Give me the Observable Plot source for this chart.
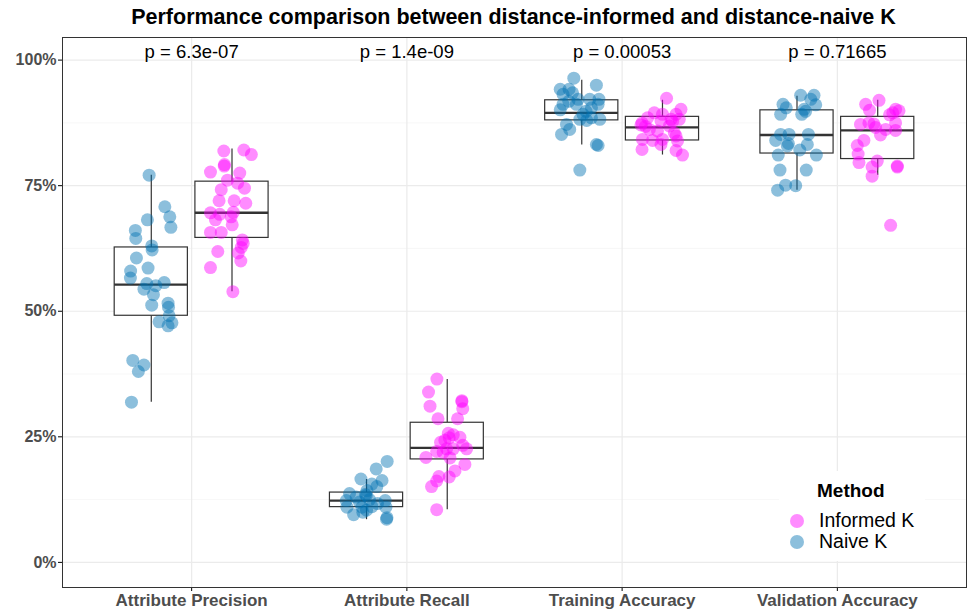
<!DOCTYPE html>
<html><head><meta charset="utf-8">
<script src="https://cdn.jsdelivr.net/npm/d3@7"></script>
<script src="https://cdn.jsdelivr.net/npm/@observablehq/plot@0.6"></script>
<style>
body{margin:0;background:#fff;font-family:"Liberation Sans",Arial,sans-serif;}
#wrap{position:relative;width:969px;height:613px;overflow:hidden;}
#title{box-sizing:border-box;width:969px;height:36px;line-height:34px;text-align:center;font-weight:bold;font-size:21.5px;color:#000;padding-left:58px;}
#legend{position:absolute;left:779px;top:471px;width:146px;height:90px;background:#fff;}
#legend .t{position:absolute;left:38px;top:10px;font-weight:bold;font-size:19px;line-height:1;color:#000;}
#legend .dot{position:absolute;width:14px;height:14px;border-radius:50%;}
#legend .lab{position:absolute;left:40px;font-size:19.5px;line-height:1;color:#000;}
svg g[aria-label^="x-axis"] text{font-weight:bold;font-size:17px;fill:#4d4d4d;}
svg g[aria-label^="y-axis"] text{font-weight:bold;font-size:16px;fill:#4d4d4d;}
</style></head>
<body><div id="wrap"><div id="title">Performance comparison between distance-informed and distance-naive K</div><div id="chart"></div>
<div id="legend"><div class="t">Method</div>
<div class="dot" style="left:11px;top:43px;background:rgba(255,0,255,0.45)"></div><div class="lab" style="top:40px">Informed K</div>
<div class="dot" style="left:11px;top:64px;background:rgba(0,114,178,0.45)"></div><div class="lab" style="top:61px">Naive K</div>
</div></div>
<script>
const categories = ["Attribute Precision", "Attribute Recall", "Training Accuracy", "Validation Accuracy"];
const methods = ["Informed K", "Naive K"];
const pValues = ["p = 6.3e-07", "p = 1.4e-09", "p = 0.00053", "p = 0.71665"];
const yTicks = [0, 0.25, 0.5, 0.75, 1];

// box stats per category: [whisker low, q1, median, q3, whisker high]
const naiveBox = [[0.319,0.491,0.553,0.627,0.771],[0.085,0.110,0.123,0.139,0.165],[0.831,0.880,0.895,0.920,0.960],[0.741,0.814,0.851,0.900,0.928]];
const informedBox = [[0.539,0.646,0.696,0.758,0.823],[0.105,0.205,0.228,0.278,0.364],[0.811,0.840,0.866,0.887,0.920],[0.771,0.803,0.860,0.887,0.920]];

// points: [value, horizontal jitter]
const naivePrecision = [[0.771,-0.01],[0.708,0.063],[0.688,0.086],[0.667,0.091],[0.682,-0.018],[0.661,-0.074],[0.645,-0.072],[0.630,0.002],[0.622,0.004],[0.606,-0.069],[0.580,-0.096],[0.566,-0.097],[0.586,-0.015],[0.555,-0.021],[0.551,0.021],[0.557,0.06],[0.544,-0.034],[0.533,0.01],[0.512,0.002],[0.516,0.078],[0.508,0.08],[0.491,0.083],[0.479,0.036],[0.477,0.096],[0.471,0.078],[0.402,-0.086],[0.393,-0.034],[0.380,-0.06],[0.319,-0.092]];
const informedPrecision = [[0.819,-0.038],[0.821,0.055],[0.812,0.09],[0.789,-0.036],[0.792,-0.035],[0.777,-0.1],[0.775,0.036],[0.761,-0.021],[0.755,0.026],[0.745,0.058],[0.742,-0.05],[0.720,-0.06],[0.720,0.01],[0.715,0.064],[0.696,-0.1],[0.693,-0.057],[0.697,0.006],[0.682,-0.077],[0.688,-0.004],[0.672,0.001],[0.657,-0.1],[0.657,-0.05],[0.642,0.048],[0.635,0.052],[0.627,0.043],[0.616,0.029],[0.600,0.041],[0.619,-0.066],[0.587,-0.1],[0.539,0.004]];
const naiveRecall = [[0.201,0.096],[0.186,0.045],[0.163,0.072],[0.166,-0.026],[0.156,0.025],[0.151,0.048],[0.143,0.002],[0.133,-0.001],[0.137,-0.079],[0.130,-0.048],[0.123,-0.094],[0.125,0.014],[0.123,0.087],[0.117,0.051],[0.110,-0.091],[0.110,-0.021],[0.111,0.025],[0.110,0.09],[0.095,-0.06],[0.100,-0.017],[0.089,0.095],[0.086,0.093],[0.120,-0.033],[0.135,-0.005],[0.104,0.0]];
const informedRecall = [[0.365,-0.048],[0.339,-0.087],[0.322,0.068],[0.320,0.068],[0.306,0.072],[0.311,-0.08],[0.286,-0.043],[0.286,0.048],[0.257,0.005],[0.254,0.028],[0.248,0.009],[0.239,-0.031],[0.233,0.072],[0.226,0.09],[0.221,-0.049],[0.226,-0.003],[0.226,0.028],[0.209,-0.099],[0.208,0.013],[0.195,0.082],[0.182,0.036],[0.170,0.009],[0.171,-0.039],[0.162,-0.049],[0.151,-0.073],[0.105,-0.049],[0.243,-0.011],[0.219,-0.019],[0.249,0.059]];
const naiveTraining = [[0.964,-0.037],[0.942,-0.1],[0.942,-0.059],[0.950,0.068],[0.932,-0.087],[0.935,-0.043],[0.922,-0.017],[0.922,0.037],[0.922,0.08],[0.912,-0.087],[0.912,-0.025],[0.912,0.076],[0.901,-0.1],[0.905,0.045],[0.892,0.006],[0.885,0.045],[0.882,0.084],[0.882,-0.009],[0.880,0.023],[0.872,-0.071],[0.862,-0.056],[0.852,-0.094],[0.832,0.068],[0.830,0.076],[0.781,-0.009],[0.898,0.02],[0.918,-0.06]];
const informedTraining = [[0.924,0.019],[0.902,0.086],[0.895,-0.038],[0.892,0.063],[0.892,0.0],[0.885,-0.069],[0.882,0.04],[0.882,0.078],[0.875,-0.095],[0.879,-0.007],[0.871,-0.1],[0.862,-0.061],[0.859,-0.023],[0.855,0.055],[0.849,0.063],[0.842,-0.093],[0.840,-0.046],[0.842,0.0],[0.839,0.07],[0.822,-0.095],[0.820,0.063],[0.811,0.093],[0.832,-0.007],[0.869,0.032],[0.868,-0.079],[0.878,0.047]];
const naiveValidation = [[0.930,0.017],[0.930,0.079],[0.922,0.064],[0.911,0.087],[0.912,-0.065],[0.905,-0.05],[0.902,0.033],[0.892,0.022],[0.892,-0.076],[0.852,-0.076],[0.852,-0.037],[0.852,0.053],[0.840,-0.099],[0.834,-0.04],[0.829,-0.045],[0.832,0.048],[0.811,-0.087],[0.821,0.013],[0.811,0.09],[0.781,-0.079],[0.781,0.043],[0.751,-0.053],[0.750,-0.006],[0.741,-0.09],[0.898,0.04]];
const informedValidation = [[0.920,0.006],[0.912,-0.056],[0.900,-0.038],[0.902,0.083],[0.899,0.099],[0.891,0.055],[0.873,-0.018],[0.872,-0.08],[0.875,0.083],[0.866,-0.01],[0.875,-0.041],[0.862,0.037],[0.860,0.083],[0.851,0.013],[0.840,-0.064],[0.830,-0.095],[0.813,-0.091],[0.799,-0.002],[0.796,-0.087],[0.789,0.091],[0.787,0.091],[0.787,-0.026],[0.769,-0.026],[0.671,0.06],[0.895,0.07]];

const naivePoints = [naivePrecision, naiveRecall, naiveTraining, naiveValidation];
const informedPoints = [informedPrecision, informedRecall, informedTraining, informedValidation];

const dodge = 0.1875, halfBox = 0.17;
const offset = m => m === "Naive K" ? -dodge : dodge;

const points = [];
categories.forEach((c, i) => {
  naivePoints[i].forEach(([v, j]) => points.push({i, method: "Naive K", value: v, jitter: j}));
  informedPoints[i].forEach(([v, j]) => points.push({i, method: "Informed K", value: v, jitter: j}));
});
const boxes = [];
categories.forEach((c, i) => {
  boxes.push({i, method: "Naive K", s: naiveBox[i]});
  boxes.push({i, method: "Informed K", s: informedBox[i]});
});
const pRows = categories.map((c, i) => ({i, label: pValues[i]}));
const minorTicks = [0.125, 0.375, 0.625, 0.875];
const cx = d => d.i + offset(d.method);

const chart = Plot.plot({
  width: 969, height: 577,
  marginTop: 1, marginBottom: 26, marginLeft: 62, marginRight: 3,
  style: {fontFamily: '"Liberation Sans", Arial, sans-serif', fontSize: "15px", background: "#fff"},
  x: {domain: [-0.6, 3.6], ticks: [0,1,2,3], tickFormat: i => categories[i], tickSize: 4, tickPadding: 2, label: null},
  y: {domain: [-0.05, 1.045], ticks: yTicks, tickFormat: d3.format(".0%"), tickSize: 4, tickPadding: 2, label: null},
  color: {domain: methods, range: ["#ff00ff", "#0072b2"]},
  marks: [
    Plot.ruleY(minorTicks, {stroke: "#f2f2f2", strokeWidth: 0.6}),
    Plot.ruleY(yTicks, {stroke: "#ebebeb", strokeWidth: 1.2}),
    Plot.ruleX([0,1,2,3], {stroke: "#ebebeb", strokeWidth: 1.2}),
    Plot.ruleX(boxes, {x: cx, y1: d => d.s[0], y2: d => d.s[1], stroke: "#333", strokeWidth: 1.2}),
    Plot.ruleX(boxes, {x: cx, y1: d => d.s[3], y2: d => d.s[4], stroke: "#333", strokeWidth: 1.2}),
    Plot.rect(boxes, {x1: d => cx(d) - halfBox, x2: d => cx(d) + halfBox, y1: d => d.s[1], y2: d => d.s[3], fill: "white", stroke: "#333", strokeWidth: 1.2}),
    Plot.ruleY(boxes, {y: d => d.s[2], x1: d => cx(d) - halfBox, x2: d => cx(d) + halfBox, stroke: "#333", strokeWidth: 2.4}),
    Plot.dot(points, {x: d => d.i + offset(d.method) + d.jitter, y: "value", r: 6.5, fill: "method", fillOpacity: 0.45, stroke: null}),
    Plot.text(pRows, {x: "i", y: () => 1.015, text: "label", fontSize: 18.5, fill: "#000"}),
    Plot.frame({stroke: "#333", strokeWidth: 1})
  ]
});
document.getElementById("chart").appendChild(chart);
</script></body></html>
